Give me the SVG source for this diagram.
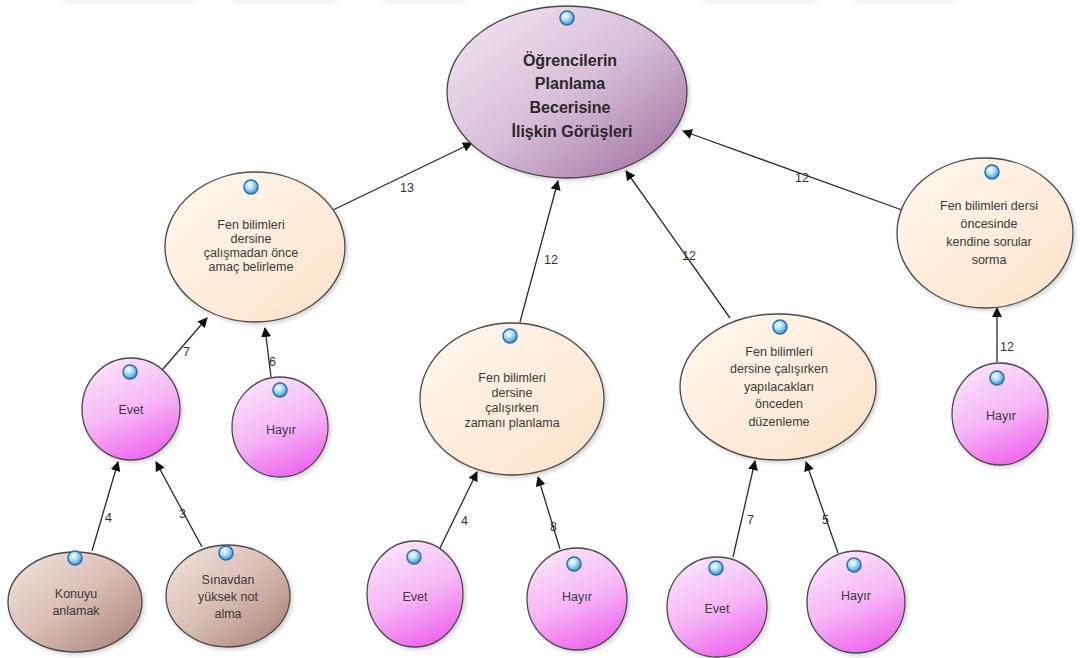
<svg xmlns="http://www.w3.org/2000/svg" width="1084" height="658" viewBox="0 0 1084 658">
<style>
text{font-family:"Liberation Sans",Arial,sans-serif;fill:#3a3a3a;text-anchor:middle}
.t{font-size:12.5px}
.m{font-size:16px;font-weight:bold;fill:#2a2a2a}
.l{font-size:12.5px;text-anchor:start;fill:#333}
.e{stroke:#4a4a4a;stroke-width:1.3;filter:url(#sh)}
.c line{stroke:#2a2a2a;stroke-width:1.3;marker-end:url(#ar)}
.dot{fill:url(#gd);stroke:#2d6da8;stroke-width:1.5}
</style>
<defs>
<marker id="ar" viewBox="0 0 10 10" refX="9" refY="5" markerWidth="10" markerHeight="10" markerUnits="userSpaceOnUse" orient="auto">
<path d="M0,0 L10,5 L0,10 z" fill="#111"/>
</marker>
<filter id="sh" x="-10%" y="-10%" width="130%" height="130%">
<feDropShadow dx="2" dy="2" stdDeviation="2" flood-color="#000" flood-opacity="0.18"/>
</filter>
<linearGradient id="gm" x1="0" y1="0" x2="1" y2="1">
<stop offset="0" stop-color="#f3e9f3"/><stop offset="0.5" stop-color="#d8bfd8"/><stop offset="1" stop-color="#9c6a9c"/>
</linearGradient>
<linearGradient id="gc" x1="0" y1="0" x2="1" y2="1">
<stop offset="0" stop-color="#fff8f1"/><stop offset="1" stop-color="#fde2c8"/>
</linearGradient>
<linearGradient id="gp" x1="0.2" y1="0" x2="0.6" y2="1">
<stop offset="0" stop-color="#fbe6fb"/><stop offset="0.55" stop-color="#f6b6f6"/><stop offset="1" stop-color="#ee66ee"/>
</linearGradient>
<linearGradient id="gb" x1="0" y1="0" x2="1" y2="1">
<stop offset="0" stop-color="#f3e6e2"/><stop offset="0.5" stop-color="#d9bcb4"/><stop offset="1" stop-color="#a57d73"/>
</linearGradient>
<radialGradient id="gd" cx="0.4" cy="0.35" r="0.65">
<stop offset="0" stop-color="#ffffff"/><stop offset="0.5" stop-color="#9fdcf6"/><stop offset="1" stop-color="#3d8fd0"/>
</radialGradient>
</defs>
<rect width="1084" height="658" fill="#fff"/>
<g id="watermark" fill="#f6f6f6">
<path d="M60 0 H200 L190 4 H70 Z"/><path d="M230 0 H340 L330 4 H240 Z"/><path d="M380 0 H470 L460 4 H390 Z"/>
<path d="M700 0 H820 L810 4 H710 Z"/><path d="M850 0 H960 L950 4 H860 Z"/>
</g>
<g class="c" id="connectors">
<line x1="333" y1="210" x2="472" y2="143"/>
<line x1="520" y1="322" x2="558" y2="181"/>
<line x1="730" y1="318" x2="626" y2="171"/>
<line x1="902" y1="210" x2="683" y2="131"/>
<line x1="163" y1="369" x2="207" y2="318"/>
<line x1="271" y1="377" x2="265" y2="328"/>
<line x1="92" y1="551" x2="118" y2="462"/>
<line x1="202" y1="547" x2="156" y2="462"/>
<line x1="440" y1="548" x2="477" y2="472"/>
<line x1="560" y1="549" x2="538" y2="477"/>
<line x1="733" y1="557" x2="755" y2="461"/>
<line x1="838" y1="553" x2="806" y2="462"/>
<line x1="997" y1="362" x2="997" y2="308"/>
<text class="l" x="400" y="192">13</text>
<text class="l" x="544" y="264">12</text>
<text class="l" x="682" y="260">12</text>
<text class="l" x="795" y="182">12</text>
<text class="l" x="183" y="356">7</text>
<text class="l" x="269" y="366">6</text>
<text class="l" x="105" y="522">4</text>
<text class="l" x="179" y="518">3</text>
<text class="l" x="461" y="525">4</text>
<text class="l" x="550" y="531">8</text>
<text class="l" x="747" y="524">7</text>
<text class="l" x="822" y="524">5</text>
<text class="l" x="1000" y="351">12</text>
</g>
<g id="main">
<ellipse class="e" cx="567" cy="92" rx="120" ry="86" fill="url(#gm)"/>
<circle class="dot" cx="567" cy="18" r="7"/>
<text class="m" x="570" y="66">Öğrencilerin</text>
<text class="m" x="570" y="89">Planlama</text>
<text class="m" x="570" y="113">Becerisine</text>
<text class="m" x="572" y="137">İlişkin Görüşleri</text>
</g>
<g id="nodeA">
<ellipse class="e" cx="255" cy="247" rx="90" ry="75" fill="url(#gc)"/>
<circle class="dot" cx="251" cy="187" r="7"/>
<text class="t" x="251" y="229">Fen bilimleri</text>
<text class="t" x="251" y="243">dersine</text>
<text class="t" x="251" y="257">çalışmadan önce</text>
<text class="t" x="251" y="271">amaç belirleme</text>
</g>
<g id="nodeB">
<ellipse class="e" cx="512" cy="399" rx="92" ry="76" fill="url(#gc)"/>
<circle class="dot" cx="510" cy="336" r="7"/>
<text class="t" x="512" y="382">Fen bilimleri</text>
<text class="t" x="512" y="397">dersine</text>
<text class="t" x="512" y="412">çalışırken</text>
<text class="t" x="512" y="427">zamanı planlama</text>
</g>
<g id="nodeC">
<ellipse class="e" cx="778" cy="387" rx="98" ry="73" fill="url(#gc)"/>
<circle class="dot" cx="780" cy="327" r="7"/>
<text class="t" x="779" y="356">Fen bilimleri</text>
<text class="t" x="779" y="373">dersine çalışırken</text>
<text class="t" x="779" y="391">yapılacakları</text>
<text class="t" x="779" y="408">önceden</text>
<text class="t" x="779" y="426">düzenleme</text>
</g>
<g id="nodeD">
<ellipse class="e" cx="985" cy="233" rx="88" ry="75" fill="url(#gc)"/>
<circle class="dot" cx="992" cy="172" r="7"/>
<text class="t" x="989" y="210">Fen bilimleri dersi</text>
<text class="t" x="989" y="228">öncesinde</text>
<text class="t" x="989" y="246">kendine sorular</text>
<text class="t" x="989" y="264">sorma</text>
</g>
<g id="evetA">
<ellipse class="e" cx="131" cy="409" rx="49" ry="51" fill="url(#gp)"/>
<circle class="dot" cx="130" cy="372" r="7"/>
<text class="t" x="131" y="414">Evet</text>
</g>
<g id="hayirA">
<ellipse class="e" cx="280" cy="427" rx="48" ry="50" fill="url(#gp)"/>
<circle class="dot" cx="280" cy="390" r="7"/>
<text class="t" x="281" y="434">Hayır</text>
</g>
<g id="konuyu">
<ellipse class="e" cx="75" cy="602" rx="67" ry="50" fill="url(#gb)"/>
<circle class="dot" cx="75" cy="558" r="7"/>
<text class="t" x="76" y="598">Konuyu</text>
<text class="t" x="76" y="615">anlamak</text>
</g>
<g id="sinavdan">
<ellipse class="e" cx="228" cy="596" rx="62" ry="51" fill="url(#gb)"/>
<circle class="dot" cx="226" cy="553" r="7"/>
<text class="t" x="228" y="584">Sınavdan</text>
<text class="t" x="228" y="601">yüksek not</text>
<text class="t" x="228" y="618">alma</text>
</g>
<g id="evetB">
<ellipse class="e" cx="415" cy="594" rx="48" ry="53" fill="url(#gp)"/>
<circle class="dot" cx="414" cy="557" r="7"/>
<text class="t" x="415" y="601">Evet</text>
</g>
<g id="hayirB">
<ellipse class="e" cx="577" cy="599" rx="50" ry="51" fill="url(#gp)"/>
<circle class="dot" cx="574" cy="564" r="7"/>
<text class="t" x="577" y="601">Hayır</text>
</g>
<g id="evetC">
<ellipse class="e" cx="717" cy="607" rx="50" ry="50" fill="url(#gp)"/>
<circle class="dot" cx="716" cy="568" r="7"/>
<text class="t" x="717" y="613">Evet</text>
</g>
<g id="hayirC">
<ellipse class="e" cx="856" cy="602" rx="49" ry="51" fill="url(#gp)"/>
<circle class="dot" cx="854" cy="565" r="7"/>
<text class="t" x="856" y="600">Hayır</text>
</g>
<g id="hayirD">
<ellipse class="e" cx="1000" cy="414" rx="48" ry="51" fill="url(#gp)"/>
<circle class="dot" cx="997" cy="378" r="7"/>
<text class="t" x="1001" y="420">Hayır</text>
</g>
</svg>
